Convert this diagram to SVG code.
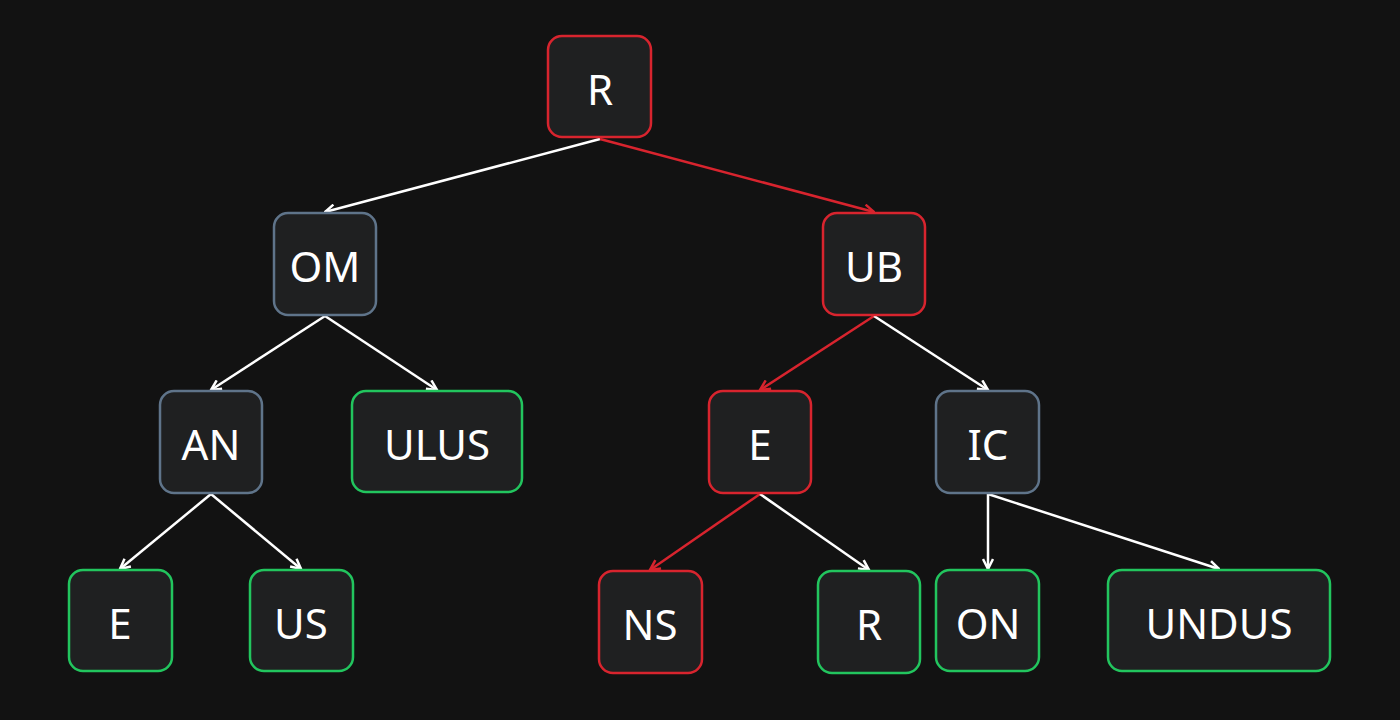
<svg xmlns="http://www.w3.org/2000/svg" width="1400" height="720" viewBox="0 0 1400 720">
<defs>
<style>
.n rect{fill:#1f2021;stroke-width:2.5}
.r rect{stroke:#d8242e}.g rect{stroke:#22c55e}.b rect{stroke:#5f748a}
.n text{fill:#fff;font-family:"Noto Sans","Open Sans",sans-serif;font-size:42px;text-anchor:middle;dominant-baseline:central}
.w{stroke:#fff;stroke-width:2.5;fill:none;marker-end:url(#aw)}
.rd{stroke:#d8242e;stroke-width:2.5;fill:none;marker-end:url(#ar)}
</style>
<marker id="aw" viewBox="0 0 10 10" refX="9" refY="5" markerWidth="5" markerHeight="5" orient="auto"><path d="M1 1L9 5L1 9" fill="none" stroke="#fff" stroke-width="2"/></marker>
<marker id="ar" viewBox="0 0 10 10" refX="9" refY="5" markerWidth="5" markerHeight="5" orient="auto"><path d="M1 1L9 5L1 9" fill="none" stroke="#d8242e" stroke-width="2"/></marker>
</defs>
<rect width="1400" height="720" fill="#121212"/>
<g id="edges">
<path class="w" d="M600 139L325 212"/>
<path class="rd" d="M600 139L874 212"/>
<path class="w" d="M325 316L211 390"/>
<path class="w" d="M325 316L437 390"/>
<path class="rd" d="M874 316L760 390"/>
<path class="w" d="M874 316L988 390"/>
<path class="w" d="M211 494L120 569"/>
<path class="w" d="M211 494L301 569"/>
<path class="rd" d="M760 494L650 570"/>
<path class="w" d="M760 494L869 570"/>
<path class="w" d="M988 494L988 569"/>
<path class="w" d="M988 494L1219 569"/>
</g>
<g id="n-R" class="n r"><rect x="548" y="36" width="103" height="101" rx="14"/><text x="600" y="88">R</text></g>
<g id="n-OM" class="n b"><rect x="274" y="213" width="102" height="102" rx="14"/><text x="325" y="265">OM</text></g>
<g id="n-UB" class="n r"><rect x="823" y="213" width="102" height="102" rx="14"/><text x="874" y="265">UB</text></g>
<g id="n-AN" class="n b"><rect x="160" y="391" width="102" height="102" rx="14"/><text x="211" y="443">AN</text></g>
<g id="n-ULUS" class="n g"><rect x="352" y="391" width="170" height="101" rx="14"/><text x="437" y="443">ULUS</text></g>
<g id="n-E" class="n r"><rect x="709" y="391" width="102" height="102" rx="14"/><text x="760" y="443">E</text></g>
<g id="n-IC" class="n b"><rect x="936" y="391" width="103" height="102" rx="14"/><text x="988" y="443">IC</text></g>
<g id="n-E2" class="n g"><rect x="69" y="570" width="103" height="101" rx="14"/><text x="120" y="622">E</text></g>
<g id="n-US" class="n g"><rect x="250" y="570" width="103" height="101" rx="14"/><text x="301" y="622">US</text></g>
<g id="n-NS" class="n r"><rect x="599" y="571" width="103" height="102" rx="14"/><text x="650" y="623">NS</text></g>
<g id="n-R2" class="n g"><rect x="818" y="571" width="102" height="102" rx="14"/><text x="869" y="623">R</text></g>
<g id="n-ON" class="n g"><rect x="936" y="570" width="103" height="101" rx="14"/><text x="988" y="622">ON</text></g>
<g id="n-UNDUS" class="n g"><rect x="1108" y="570" width="222" height="101" rx="14"/><text x="1219" y="622">UNDUS</text></g>
</svg>
